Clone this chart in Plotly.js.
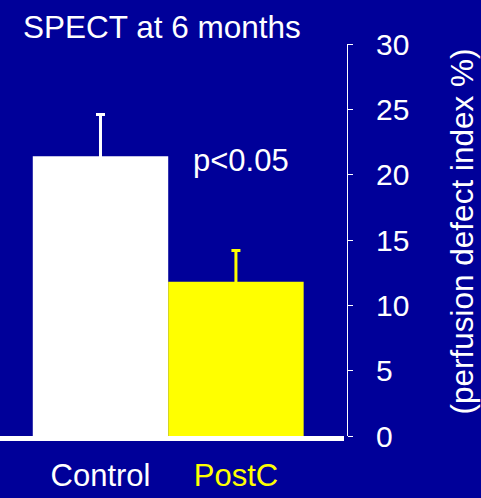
<!DOCTYPE html>
<html><head><meta charset="utf-8">
<script src="https://cdn.plot.ly/plotly-3.0.1.min.js"></script>
<style>html,body{margin:0;padding:0;background:#000099;}#chart{width:481px;height:498px;}</style>
</head><body><div id="chart"></div>
<script>
const categories = ["Control", "PostC"];
const values = [21.4, 11.8];
const errors = [3.2, 2.4];
const barColors = ["#ffffff", "#ffff00"];
const tickLabels = ['<span style="color:#ffffff">Control</span>', '<span style="color:#ffff00">PostC</span>'];
const yTicks = [0, 5, 10, 15, 20, 25, 30];
const yTitle = "(perfusion defect index %)";

const FONT = "Liberation Sans, Arial, sans-serif";
const BG = "#000099";

const traces = categories.map((c, i) => ({
  type: "bar",
  x: [i],
  y: [values[i]],
  width: 1,
  marker: {color: barColors[i], line: {width: 0}},
  error_y: {type: "data", array: [errors[i]], symmetric: true,
            color: barColors[i], thickness: 3, width: 4.5},
  showlegend: false,
  hoverinfo: "skip"
}));

const layout = {
  width: 481, height: 498,
  paper_bgcolor: BG, plot_bgcolor: BG,
  margin: {l: 0, r: 134, t: 44, b: 62, pad: 0},
  font: {family: FONT, color: "#ffffff", size: 31},
  title: {text: "SPECT at 6 months", xref: "container", yref: "container",
          x: 23/481, xanchor: "left", y: 1 - 27/498, yanchor: "middle",
          font: {family: FONT, size: 31.5, color: "#ffffff"}},
  barmode: "overlay",
  xaxis: {
    domain: [0, 0.991],
    range: [-0.742, 1.797],
    tickvals: [0, 1], ticktext: tickLabels,
    showgrid: false, zeroline: false,
    showline: true, linecolor: "#ffffff", linewidth: 5,
    ticks: "", ticklabelstandoff: 8,
    tickfont: {family: FONT, size: 31}
  },
  yaxis: {
    range: [0, 30], side: "right", anchor: "free", position: 1,
    tickvals: yTicks, ticktext: yTicks.map(String),
    showgrid: false, zeroline: false,
    showline: true, linecolor: "#ffffff", linewidth: 1,
    ticks: "outside", ticklen: 5, tickwidth: 1, tickcolor: "#ffffff",
    ticklabelstandoff: 17,
    tickfont: {family: FONT, size: 30, color: "#ffffff"}
  },
  annotations: [{
    text: "p<0.05", xref: "x", yref: "y", x: 1.037, y: 21.1,
    showarrow: false, xanchor: "center", yanchor: "middle",
    font: {family: FONT, size: 31, color: "#ffffff"}
  }, {
    text: yTitle, xref: "paper", yref: "paper", x: 461/347, y: (436 - 231.5)/392,
    textangle: -90, showarrow: false, xanchor: "center", yanchor: "middle",
    font: {family: FONT, size: 31.5, color: "#ffffff"}
  }]
};

Plotly.newPlot("chart", traces, layout, {staticPlot: true, displayModeBar: false});
</script></body></html>
